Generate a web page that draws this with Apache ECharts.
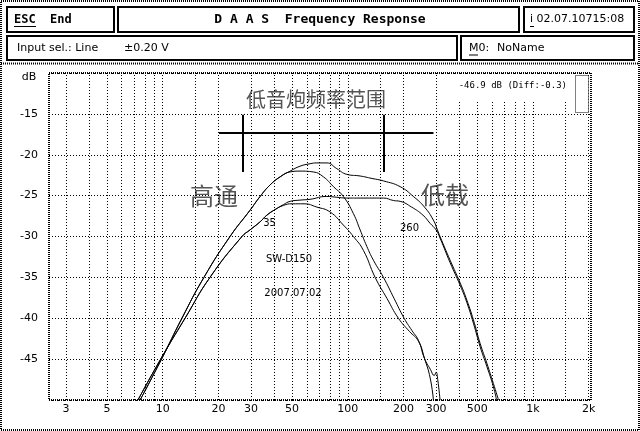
<!DOCTYPE html>
<html><head><meta charset="utf-8">
<script src="https://cdn.jsdelivr.net/npm/echarts@6/dist/echarts.min.js"></script>
<style>html,body{margin:0;padding:0;background:#fff}#c{width:640px;height:431px}</style>
</head><body><div id="c"></div>
<script>
// ---- data ----
const curve1Freq = [7.55, 9.85, 12.7, 16.7, 23.1, 29.6, 33.6, 38, 43.1, 48.8, 55.2, 62.5, 68, 77, 87.2, 98.8, 116.6, 135, 155.8, 191.7, 226, 259.5, 290, 305, 315, 357, 405, 440, 477, 519, 564, 612, 652];
const curve1Db   = [-50, -45, -40, -35, -30, -26.8, -25.1, -23.7, -22.7, -22.0, -21.4, -21.1, -21.0, -21.0, -21.7, -22.4, -22.6, -22.9, -23.2, -23.9, -25.1, -26.4, -28.0, -29.2, -30.0, -32.9, -35.7, -37.8, -40.2, -43.1, -45.5, -48.0, -50];
const curve2Freq = [7.55, 9.85, 12.7, 16.7, 23.1, 29.6, 33.6, 38, 43.1, 48.8, 55.2, 65, 73.8, 83.6, 94.6, 107.2, 116.6, 126.6, 137.5, 155.8, 178, 201.5, 222, 240.7, 259.5, 280, 293, 300, 306, 315];
const curve2Db   = [-50, -45, -40, -35, -30, -26.8, -25.1, -23.7, -22.7, -22.1, -22.0, -22.1, -22.7, -23.9, -25.1, -27.2, -29.2, -31.2, -32.9, -35.0, -37.6, -40.0, -41.5, -42.7, -44.9, -46.3, -47.0, -46.6, -47.5, -50];
const curve3Freq = [7.35, 9.75, 13.2, 18.0, 26.8, 29.6, 33.6, 36.5, 40.5, 44.9, 48.8, 55.2, 62.5, 77, 87.2, 98.8, 116.6, 155.8, 176.4, 191.7, 221, 255, 278.5, 300, 315, 357, 405, 440, 477, 519, 564, 612, 636];
const curve3Db   = [-50, -45, -40, -35, -30, -29.2, -28.2, -27.4, -26.7, -26.1, -25.7, -25.55, -25.45, -25.1, -25.2, -25.3, -25.3, -25.3, -25.6, -25.7, -26.4, -27.4, -28.4, -29.2, -30.2, -33.2, -36.0, -38.1, -40.6, -43.5, -45.9, -48.4, -50];
const curve4Freq = [7.35, 9.75, 13.2, 18.0, 26.8, 29.6, 33.6, 36.5, 40.5, 44.9, 50, 58, 68, 80.2, 94.6, 107.2, 121.4, 140.5, 163, 187.7, 215, 240.7, 259.5, 278.5, 290];
const curve4Db   = [-50, -45, -40, -35, -30, -29.2, -28.2, -27.4, -26.7, -26.2, -26.0, -26.0, -26.4, -27.0, -28.6, -30.0, -31.7, -35.0, -37.6, -40.0, -41.6, -42.8, -44.9, -47.3, -50];

const xGridFreqs  = [3,4,5,6,7,8,9,10,15,20,30,40,50,60,70,80,90,100,150,200,300,400,500,600,700,800,900,1000,1500,2000];
const xTickValues = [3,5,10,20,30,50,100,200,300,500,1000,2000];
const xTickLabels = ['3','5','10','20','30','50','100','200','300','500','1k','2k'];
const yMin = -50, yMax = -10, yStep = 5;
const xMin = 2.43, xMax = 2060;

// bracket annotation (frequency / dB)
const bracketFreq = [20.15, 290.2];
const bracketDb = -17.3;
const bracketTickFreq = [27.2, 157.1];
const bracketTickDb = [-15.1, -22.1];

// ---- build ----
const zip = (f, d) => f.map((v, i) => [v, d[i]]);
const gridLines = xGridFreqs.map(f => {
  const idx = xTickValues.indexOf(f);
  const from = { coord: [f, yMin] };
  if (idx >= 0) from.label = { show: true, formatter: xTickLabels[idx], position: 'start', distance: 4 };
  return [from, { coord: [f, yMax] }];
});
const bracketLines = [
  [{ coord: [bracketFreq[0], bracketDb] }, { coord: [bracketFreq[1], bracketDb] }],
  [{ coord: [bracketTickFreq[0], bracketTickDb[0]] }, { coord: [bracketTickFreq[0], bracketTickDb[1]] }],
  [{ coord: [bracketTickFreq[1], bracketTickDb[0]] }, { coord: [bracketTickFreq[1], bracketTickDb[1]] }]
];

const curveStyle = (name, data) => ({
  name, type: 'line', data, showSymbol: false, symbol: 'none', smooth: 0.5, z: 5,
  lineStyle: { color: '#000', width: 1 }, silent: true
});

const SANS = 'DejaVu Sans';
const MONO = 'DejaVu Sans Mono';
const CJK = '"Noto Sans CJK SC"';
const txt = (x, y, text, opt) => Object.assign({ type: 'text', x, y, style: Object.assign({ text, fill: '#000', font: '11px ' + SANS, textVerticalAlign: 'middle' }, opt || {}) });
const box = (x, y, w, h) => ({ type: 'rect', shape: { x, y, width: w, height: h }, style: { fill: 'none', stroke: '#000', lineWidth: 2 } });
const uline = (x1, x2, y) => ({ type: 'line', shape: { x1, y1: y, x2, y2: y }, style: { stroke: '#000', lineWidth: 1 } });

const chart = echarts.init(document.getElementById('c'));
chart.setOption({
  animation: false,
  backgroundColor: '#fff',
  grid: { left: 49, right: 49, top: 73, bottom: 31, show: false },
  xAxis: { type: 'log', logBase: 10, min: xMin, max: xMax,
    axisLine: { show: false }, axisTick: { show: false }, axisLabel: { show: false }, splitLine: { show: false } },
  yAxis: { type: 'value', min: yMin, max: yMax, interval: yStep,
    axisLine: { show: false }, axisTick: { show: false },
    axisLabel: { color: '#000', fontSize: 11, fontFamily: SANS, margin: 11,
      formatter: v => (v === yMin || v === yMax) ? '' : String(v) },
    splitLine: { show: true, lineStyle: { color: '#000', width: 1, type: [1, 2] } } },
  series: [
    { type: 'line', data: [], silent: true, z: 1,
      markLine: { silent: true, symbol: ['none', 'none'], animation: false,
        lineStyle: { color: '#000', width: 1, type: [1, 2] },
        label: { show: false, color: '#000', fontSize: 11, fontFamily: SANS },
        emphasis: { disabled: true },
        data: gridLines } },
    { type: 'line', data: [], silent: true, z: 6,
      markLine: { silent: true, symbol: ['none', 'none'], animation: false,
        lineStyle: { color: '#000', width: 2, type: 'solid' },
        label: { show: false }, emphasis: { disabled: true },
        data: bracketLines } },
    curveStyle('c1', zip(curve1Freq, curve1Db)),
    curveStyle('c2', zip(curve2Freq, curve2Db)),
    curveStyle('c3', zip(curve3Freq, curve3Db)),
    curveStyle('c4', zip(curve4Freq, curve4Db))
  ],
  graphic: [
    // outer frames (checkered look)
    { type: 'rect', shape: { x: 1, y: 1, width: 638, height: 429 }, style: { fill: 'none', stroke: '#000', lineWidth: 2, lineDash: [1, 1] } },
    { type: 'line', shape: { x1: 1, y1: 63.5, x2: 639, y2: 63.5 }, style: { stroke: '#000', lineWidth: 2, lineDash: [1, 1] } },
    { type: 'rect', shape: { x: 49, y: 73, width: 542, height: 327 }, style: { fill: 'none', stroke: '#000', lineWidth: 2, lineDash: [1, 1] } },
    // header boxes
    box(7, 7, 107, 25), box(118, 7, 401, 25), box(524, 7, 110, 25),
    box(7, 36, 450, 24), box(461, 36, 173, 24),
    txt(14, 19.5, 'ESC  End', { font: 'bold 12px ' + MONO }),
    uline(14, 36, 26.5),
    txt(320, 19.5, 'D A A S  Frequency Response', { font: 'bold 13px ' + MONO, textAlign: 'center' }),
    txt(530, 19.5, 'i 02.07.10715:08', { font: '11px ' + SANS }),
    uline(530, 534, 26.5),
    txt(17, 48, 'Input sel.: Line', { font: '11px ' + SANS }),
    txt(124, 48, '\u00b10.20 V', { font: '11px ' + SANS }),
    txt(469, 48, 'M0:', { font: '11px ' + SANS }),
    uline(469, 478, 55),
    txt(497, 48, 'NoName', { font: '11px ' + SANS }),
    // plot annotations
    { type: 'rect', z: 20, shape: { x: 440, y: 74, width: 133, height: 26 }, style: { fill: '#fff' } },
    Object.assign(txt(567, 86, '-46.9 dB (Diff:-0.3)', { font: '9px ' + MONO, textAlign: 'right' }), { z: 21 }),
    { type: 'rect', z: 20, shape: { x: 575.5, y: 75.5, width: 13, height: 37 }, style: { fill: '#fff', stroke: '#000', lineWidth: 1, lineDash: [1, 1] } },
    txt(29, 77, 'dB', { textAlign: 'center' }),
    txt(316, 99, '低音炮频率范围', { font: '20px ' + CJK, fill: '#555', textAlign: 'center' }),
    txt(214, 196, '高通', { font: '24px ' + CJK, fill: '#555', textAlign: 'center' }),
    txt(445, 195, '低截', { font: '24px ' + CJK, fill: '#555', textAlign: 'center' }),
    txt(269.5, 223.5, '35', { font: '10px ' + SANS, textAlign: 'center' }),
    txt(409.5, 228, '260', { font: '10px ' + SANS, textAlign: 'center' }),
    txt(289, 259.5, 'SW-D150', { font: '10px ' + SANS, textAlign: 'center' }),
    txt(293, 293, '2007.07.02', { font: '10px ' + SANS, textAlign: 'center' })
  ]
});
</script></body></html>
